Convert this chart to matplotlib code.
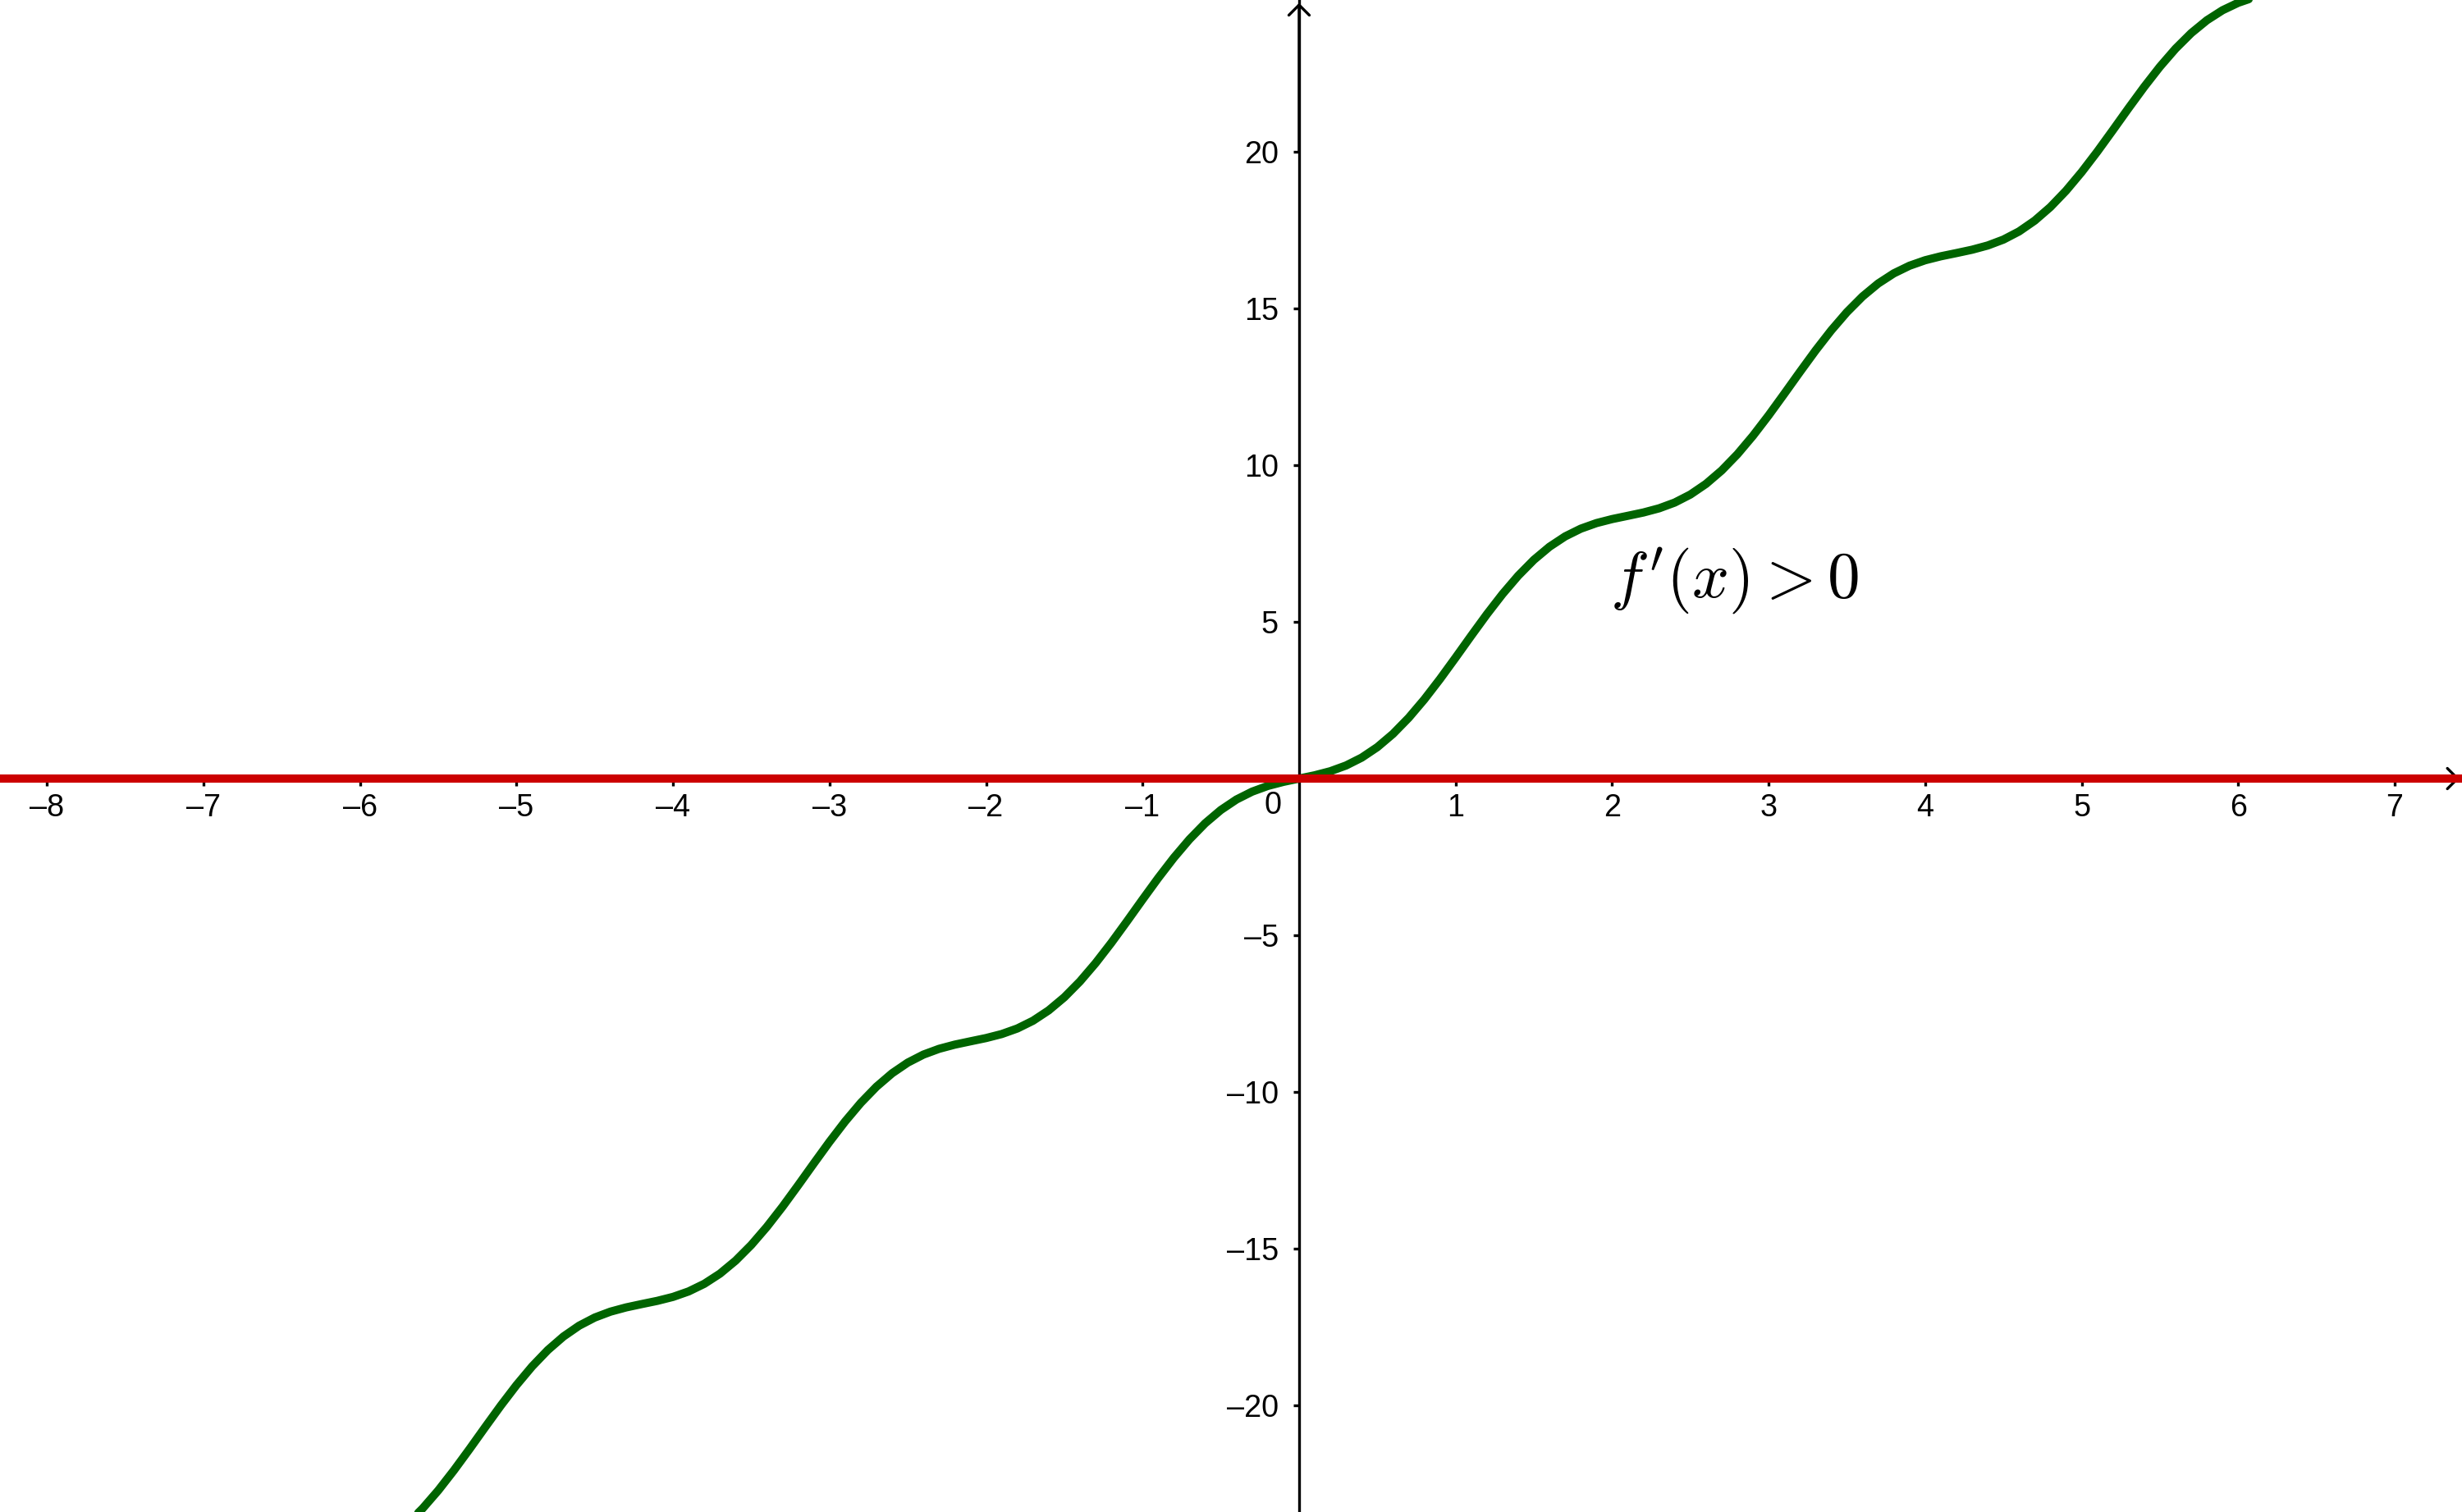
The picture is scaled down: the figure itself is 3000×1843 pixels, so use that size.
import matplotlib.pyplot as plt
from matplotlib.patches import ArrowStyle

# значения кривой (шаг 0.1, x >= 0; левая половина симметрична)
half_x = [round(0.1 * i, 1) for i in range(65)]
half_y = [0.000, 0.105, 0.235, 0.417, 0.668, 1.003, 1.426, 1.937, 2.525, 3.173,
          3.859, 4.558, 5.243, 5.888, 6.472, 6.978, 7.396, 7.726, 7.973, 8.151,
          8.279, 8.383, 8.489, 8.622, 8.806, 9.062, 9.402, 9.830, 10.345, 10.937,
          11.588, 12.276, 12.974, 13.658, 14.300, 14.880, 15.381, 15.795, 16.119,
          16.362, 16.537, 16.663, 16.766, 16.873, 17.008, 17.196, 17.456, 17.801,
          18.234, 18.754, 19.350, 20.003, 20.692, 21.391, 22.072, 22.712, 23.288,
          23.784, 24.193, 24.513, 24.751, 24.922, 25.047, 25.150, 25.257]
n_left = 58
curve_x = [-v for v in half_x[n_left:0:-1]] + half_x
curve_y = [-v for v in half_y[n_left:0:-1]] + half_y

# горизонтальная линия y = 0
red_line_y = [0, 0]
red_line_x = [-9, 8]

x_ticks = [-8, -7, -6, -5, -4, -3, -2, -1, 1, 2, 3, 4, 5, 6, 7]
y_ticks = [-20, -15, -10, -5, 5, 10, 15, 20]

x_lim = (-8.30, 7.43)
y_lim = (-23.40, 24.84)

label_text = r"$f'(x) > 0$"
label_pos = (1.99, 5.79)


if __name__ == '__main__':

    plt.rcParams['font.family'] = ['Liberation Sans', 'DejaVu Sans']
    plt.rcParams['mathtext.fontset'] = 'cm'

    fig = plt.figure(figsize=(15, 9.215), dpi=200)
    ax = fig.add_axes([0, 0, 1, 1])
    ax.set_xlim(*x_lim)
    ax.set_ylim(*y_lim)

    # оси через начало координат
    ax.spines['left'].set_position(('data', 0))
    ax.spines['bottom'].set_position(('data', 0))
    ax.spines['right'].set_visible(False)
    ax.spines['top'].set_visible(False)
    for s in ('left', 'bottom'):
        ax.spines[s].set_linewidth(1.2)
        ax.spines[s].set_zorder(3)

    ax.set_xticks(x_ticks)
    ax.set_yticks(y_ticks)
    ax.set_xticklabels([str(t).replace('-', '\u2013') for t in x_ticks])
    ax.set_yticklabels([str(t).replace('-', '\u2013') for t in y_ticks])
    ax.tick_params(axis='x', direction='out', length=3.3, width=1.2,
                   labelsize=13.6, pad=3)
    ax.tick_params(axis='y', direction='out', length=2.5, width=1.2,
                   labelsize=13.6, pad=6.5)
    # подпись нуля слева от начала координат
    ax.text(-0.17, -0.38, '0', fontsize=13.6, ha='center', va='top')

    # стрелки на концах осей
    head = ArrowStyle('->', head_length=0.45, head_width=0.45)
    ax.annotate('', xy=(0, 0.998), xytext=(0, 0.9),
                xycoords=('data', 'axes fraction'),
                textcoords=('data', 'axes fraction'),
                arrowprops=dict(arrowstyle=head, lw=1.2, color='black',
                                mutation_scale=10, shrinkA=0, shrinkB=0))
    ax.annotate('', xy=(0.999, 0), xytext=(0.9, 0),
                xycoords=('axes fraction', 'data'),
                textcoords=('axes fraction', 'data'),
                arrowprops=dict(arrowstyle=head, lw=1.2, color='black',
                                mutation_scale=10, shrinkA=0, shrinkB=0))

    ax.plot(curve_x, curve_y, color='#006400', lw=3.6, zorder=2,
            solid_capstyle='round', solid_joinstyle='round')
    ax.plot(red_line_x, red_line_y, color='#cc0000', lw=3.6, zorder=4)

    ax.text(label_pos[0], label_pos[1], label_text, fontsize=28.5,
            ha='left', va='baseline')

    fig.savefig('out.png', dpi=200)
